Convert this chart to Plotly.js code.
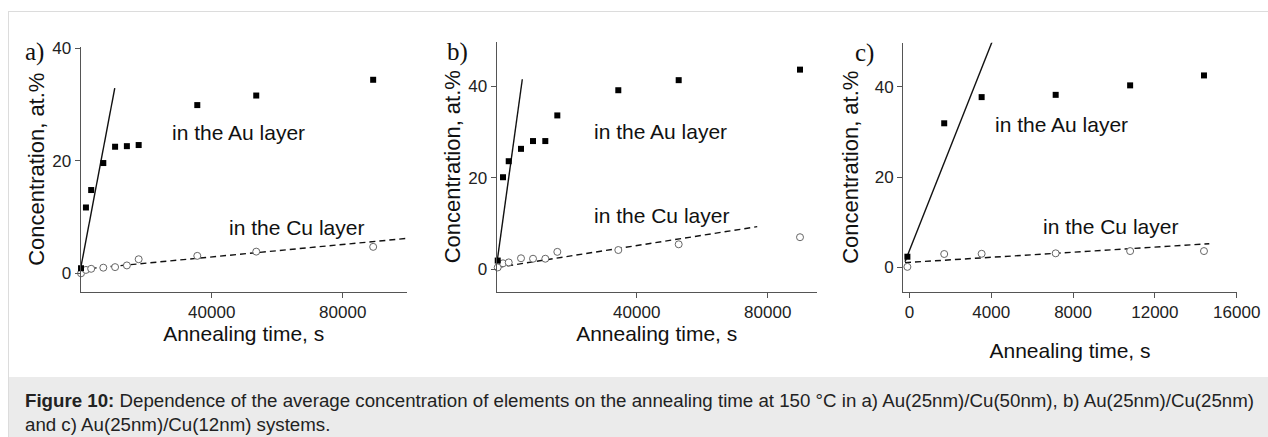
<!DOCTYPE html>
<html>
<head>
<meta charset="utf-8">
<script src="https://cdn.plot.ly/plotly-3.0.1.min.js"></script>
<style>
  html, body { margin: 0; padding: 0; background: #fff; }
  #wrap { position: relative; width: 1268px; height: 437px; overflow: hidden; background: #fff; }
  #frame { position: absolute; left: 8px; top: 11px; width: 1280px; height: 440px; border: 1px solid #dcdcdc; box-sizing: border-box; }
  #capbg { position: absolute; left: 9px; top: 377px; width: 1280px; height: 70px; background: #ebebeb; }
  #caption { position: absolute; left: 25px; top: 389px; width: 1240px; font-family: "Liberation Sans", Arial, sans-serif; font-size: 18.7px; line-height: 23.5px; color: #222; white-space: nowrap; }
  #chart { position: absolute; left: 0; top: 0; width: 1268px; height: 437px; }
</style>
</head>
<body>
<div id="wrap">
  <div id="frame"></div>
  <div id="capbg"></div>
  <div id="caption"><b>Figure 10:</b> Dependence of the average concentration of elements on the annealing time at 150 °C in a) Au(25nm)/Cu(50nm), b) Au(25nm)/Cu(25nm)<br>and c) Au(25nm)/Cu(12nm) systems.</div>
  <div id="chart"></div>
</div>
<script>
// ---- data ----
// panel a) Au(25nm)/Cu(50nm)
const timeA = [100, 1600, 3200, 6900, 10500, 14100, 17700, 35600, 53600, 89300];
const auA   = [0.9, 11.7, 14.8, 19.6, 22.5, 22.6, 22.8, 29.9, 31.6, 34.4];
const cuA   = [0.0, 0.6, 0.8, 1.0, 1.1, 1.4, 2.5, 3.1, 3.85, 4.7];
const auFitA_t = [0, 10400];
const auFitA_y = [0.9, 32.9];
const cuFitA_t = [0, 99500];
const cuFitA_y = [0.7, 6.2];

// panel b) Au(25nm)/Cu(25nm)
const timeB = [-2440, -820, 920, 4670, 8340, 12090, 15760, 34380, 52820, 89860];
const auB   = [1.9, 20.1, 23.6, 26.3, 28.0, 28.0, 33.6, 39.1, 41.3, 43.6];
const cuB   = [0.4, 1.3, 1.5, 2.4, 2.3, 2.3, 3.8, 4.2, 5.45, 7.0];
const auFitB_t = [-2560, 5070];
const auFitB_y = [2.0, 41.5];
const cuFitB_t = [-2560, 76800];
const cuFitB_y = [0.4, 9.3];

// panel c) Au(25nm)/Cu(12nm)
const timeC = [-100, 1700, 3530, 7150, 10790, 14400];
const auC   = [2.35, 31.9, 37.7, 38.2, 40.3, 42.5];
const cuC   = [0.1, 2.95, 3.0, 3.1, 3.6, 3.6];
const auFitC_t = [-217, 4071];
const auFitC_y = [1.25, 50.3];
const cuFitC_t = [-217, 14660];
const cuFitC_y = [1.03, 5.23];

const xTicksAB = [40000, 80000];
const xTicksC  = [0, 4000, 8000, 12000, 16000];
const yTicks   = [0, 20, 40];
const xTitle = 'Annealing time, s';
const yTitle = 'Concentration, at.%';
const auLabel = 'in the Au layer';
const cuLabel = 'in the Cu layer';
const panelLabels = ['a)', 'b)', 'c)'];

// ---- traces ----
const SANS = 'Liberation Sans, Arial, sans-serif';
function fitLine(t, y, xa, ya, dash) {
  return {x: t, y: y, xaxis: xa, yaxis: ya, mode: 'lines', type: 'scatter', showlegend: false,
          line: {color: '#111', width: 1.4, dash: dash}, hoverinfo: 'skip'};
}
function auPts(t, y, xa, ya) {
  return {x: t, y: y, xaxis: xa, yaxis: ya, mode: 'markers', type: 'scatter', showlegend: false, cliponaxis: false,
          marker: {symbol: 'square', size: 6, color: '#000'}};
}
function cuPts(t, y, xa, ya) {
  return {x: t, y: y, xaxis: xa, yaxis: ya, mode: 'markers', type: 'scatter', showlegend: false, cliponaxis: false,
          marker: {symbol: 'circle', size: 7, color: '#fff', line: {color: '#666', width: 1}}};
}
const traces = [
  fitLine(auFitA_t, auFitA_y, 'x', 'y', 'solid'),
  fitLine(cuFitA_t, cuFitA_y, 'x', 'y', '6px,4px'),
  cuPts(timeA, cuA, 'x', 'y'),
  auPts(timeA, auA, 'x', 'y'),
  fitLine(auFitB_t, auFitB_y, 'x2', 'y2', 'solid'),
  fitLine(cuFitB_t, cuFitB_y, 'x2', 'y2', '6px,4px'),
  cuPts(timeB, cuB, 'x2', 'y2'),
  auPts(timeB, auB, 'x2', 'y2'),
  fitLine(auFitC_t, auFitC_y, 'x3', 'y3', 'solid'),
  fitLine(cuFitC_t, cuFitC_y, 'x3', 'y3', '6px,4px'),
  cuPts(timeC, cuC, 'x3', 'y3'),
  auPts(timeC, auC, 'x3', 'y3')
];

// ---- layout ----
const W = 1268, H = 437;
const dx = (a, b) => [a / W, b / W];
const dy = (top, bottom) => [1 - bottom / H, 1 - top / H];
const axLine = '#555';
function xAxis(dom, anchor, range, tickvals, standoff) {
  return {domain: dom, anchor: anchor, range: range, tickvals: tickvals, tickformat: 'd', ticks: 'outside', ticklen: 5,
          tickcolor: axLine, showline: true, linecolor: axLine, linewidth: 1.2, showgrid: false, zeroline: false,
          tickfont: {family: SANS, size: 17, color: '#222'},
          title: {text: xTitle, font: {family: SANS, size: 21, color: '#111'}, standoff: standoff}};
}
function yAxis(dom, anchor, range, standoff) {
  return {domain: dom, anchor: anchor, range: range, tickvals: yTicks, ticks: 'outside', ticklen: 5,
          tickcolor: axLine, showline: true, linecolor: axLine, linewidth: 1.2, showgrid: false, zeroline: false,
          tickfont: {family: SANS, size: 17, color: '#222'},
          title: {text: yTitle, font: {family: SANS, size: 22, color: '#111'}, standoff: standoff}};
}
function note(text, x, y, xref, yref) {
  return {text: text, x: x, y: y, xref: xref, yref: yref, showarrow: false, xanchor: 'center', yanchor: 'middle',
          font: {family: SANS, size: 21, color: '#111'}};
}
function panelNote(text, xpx, ypx) {
  return {text: text, x: xpx / W, y: 1 - ypx / H, xref: 'paper', yref: 'paper', showarrow: false,
          xanchor: 'left', yanchor: 'middle', font: {family: 'Liberation Serif, Times New Roman, serif', size: 25, color: '#111'}};
}
const layout = {
  width: W, height: H,
  margin: {l: 0, r: 0, t: 0, b: 0},
  paper_bgcolor: 'rgba(0,0,0,0)', plot_bgcolor: 'rgba(0,0,0,0)',
  showlegend: false,
  xaxis:  xAxis(dx(80.7, 406.7), 'y', [0, 99540], xTicksAB, 4),
  yaxis:  yAxis(dy(46.7, 291.7), 'x', [-3.27, 40.28], 1),
  xaxis2: xAxis(dx(496.7, 816.7), 'y2', [-2750, 94960], xTicksAB, 4),
  yaxis2: yAxis(dy(41.7, 291.7), 'x2', [-4.9, 49.7], 1),
  xaxis3: xAxis(dx(903.3, 1236.7), 'y3', [-300, 16000], xTicksC, 22),
  yaxis3: yAxis(dy(42.7, 291.7), 'x3', [-5.4, 49.75], 10),
  annotations: [
    note(auLabel, 48270, 25.1, 'x', 'y'),
    note(cuLabel, 65950, 8.2, 'x', 'y'),
    note(auLabel, 47360, 30.1, 'x2', 'y2'),
    note(cuLabel, 47630, 11.7, 'x2', 'y2'),
    note(auLabel, 7444, 31.7, 'x3', 'y3'),
    note(cuLabel, 9845, 9.15, 'x3', 'y3'),
    panelNote(panelLabels[0], 23, 52),
    panelNote(panelLabels[1], 445, 52),
    panelNote(panelLabels[2], 853, 53)
  ]
};
Plotly.newPlot('chart', traces, layout, {staticPlot: true, displayModeBar: false});
</script>
</body>
</html>
